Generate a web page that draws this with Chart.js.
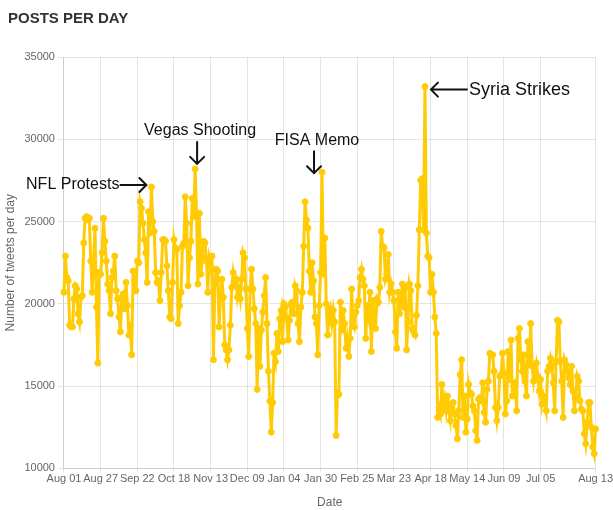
<!DOCTYPE html>
<html>
<head>
<meta charset="utf-8">
<script src="https://cdn.jsdelivr.net/npm/chart.js@4/dist/chart.umd.min.js"></script>
<style>
  html, body { margin: 0; padding: 0; background: #fff; }
  #wrap { position: relative; width: 613px; height: 510px; }
  #title { position: absolute; left: 8px; top: 9px; font: bold 15px "Liberation Sans", Arial, sans-serif; color: #333; letter-spacing: 0; }
  canvas { position: absolute; left: 0; top: 0; }
</style>
</head>
<body>
<div id="wrap">
  <canvas id="c" width="613" height="510"></canvas>
  <div id="title">POSTS PER DAY</div>
</div>
<script>
// ---- data ----
const startDate = '2017-08-01';
const dayCount = 378;
const tickDates = ['2017-08-01','2017-08-27','2017-09-22','2017-10-18','2017-11-13','2017-12-09',
  '2018-01-04','2018-01-30','2018-02-25','2018-03-23','2018-04-18','2018-05-14','2018-06-09',
  '2018-07-05','2018-08-13'];
const yTicks = [10000, 15000, 20000, 25000, 30000, 35000];
const postsPerDay = [
  20700,22900,21600,21400,18700,18600,18600,20300,21100,20900,
  19400,18900,20400,20500,23700,25200,25300,25100,25200,22600,
  20700,22700,24600,19800,16400,21900,21800,23100,25200,23800,
  22600,21200,20800,19400,21600,22000,22900,20800,20300,19200,
  18300,20400,20600,19700,21300,19900,18100,18700,16900,22000,
  21400,20800,22600,22500,26200,25800,24900,23900,23100,21300,
  25600,24300,27100,25000,24400,21900,21300,21400,20200,21900,
  23900,23900,23800,22300,20800,19200,19100,21300,23900,23400,
  23300,18800,19900,20700,23500,23700,26500,24900,21100,22800,
  23800,26400,25300,28200,25500,21200,25500,21800,22600,23800,
  23700,22800,20700,22700,22200,22900,16600,21200,22100,22000,
  18600,20400,21500,20400,17500,17200,16600,17200,18700,21000,
  21900,21300,21500,20400,20900,20300,21500,23100,22800,20900,
  18500,16800,20900,22100,20900,19700,18800,14800,18500,16200,
  18400,19500,20500,21600,18800,15900,14100,12200,14000,17000,
  16500,18200,17100,19100,19600,17700,20000,19800,19100,17800,
  19000,20000,20100,19400,21100,20800,18800,17700,19800,20700,
  23500,26200,25100,24600,22000,20700,22500,21400,19200,18800,
  16900,19900,21900,28000,21800,24000,20000,18100,19300,19700,
  18800,19600,18900,12000,14600,14500,20100,18400,19600,18800,
  17300,17900,16800,17900,20900,18900,18600,19500,19900,20200,
  21600,22100,21500,21100,17900,19900,19300,20700,17100,20200,
  19600,18500,20300,20100,21000,24400,23500,23400,21500,21800,
  23000,20700,21200,20700,20200,18300,17300,20700,19400,20100,
  21200,19800,21000,17200,18900,21200,20800,18500,18300,18100,
  19300,21100,24500,27500,27600,24500,33200,24300,22900,22800,
  20700,21800,20700,19200,18200,13100,13700,13300,15100,13900,
  14300,13500,14400,13500,12900,13900,14000,13300,12600,11800,
  13500,15700,16600,13100,14400,12200,13000,15100,14600,14500,
  13800,13500,12300,11700,14200,14300,14100,15200,13400,12800,
  14800,15300,17000,16900,16900,15900,13700,12900,13700,15600,
  15700,17000,15800,13300,14100,17100,15400,17800,14400,15000,
  15200,13500,17900,18500,16600,15900,16900,15300,14400,17700,
  16300,18800,16200,15300,16000,16400,15600,14700,15400,13900,
  14400,14000,13500,15900,16200,16700,16200,15200,13500,16500,
  19000,18900,16500,15300,13100,16600,16300,15900,15500,15100,
  16200,14700,13500,14400,15600,15300,14100,13600,13500,12100,
  11500,12800,14000,14000,12500,11300,10900,12400
];
const annotations = [
  { index: 62,  text: 'NFL Protests',   dir: 'right', size: 16 },
  { index: 93,  text: 'Vegas Shooting', dir: 'down', size: 16, arrowDx: 2,  textDx: 5,  tipDy: -5, len: 22 },
  { index: 183, text: 'FISA Memo',      dir: 'down', size: 16, arrowDx: -8, textDx: -5, tipDy: 1,  len: 22 },
  { index: 256, text: 'Syria Strikes',  dir: 'left', size: 18 }
];

// ---- categories (one per day) ----
const categories = [];
{
  const d0 = new Date(startDate + 'T00:00:00Z');
  for (let i = 0; i < dayCount; i++) {
    const d = new Date(d0.getTime() + i * 86400000);
    categories.push(d.toISOString().slice(0, 10));
  }
}
const monthNames = ['Jan','Feb','Mar','Apr','May','Jun','Jul','Aug','Sep','Oct','Nov','Dec'];
function fmtDate(iso) {
  const m = parseInt(iso.slice(5, 7), 10) - 1;
  return monthNames[m] + ' ' + iso.slice(8, 10);
}

const FONT = '"Liberation Sans", Arial, Helvetica, sans-serif';
const gold = '#FFCB05';

const annotationPlugin = {
  id: 'eventNotes',
  afterDatasetsDraw(chart) {
    const ctx = chart.ctx;
    const xs = chart.scales.x, ys = chart.scales.y;
    const data = chart.data.datasets[0].data;
    ctx.save();
    ctx.strokeStyle = '#111';
    ctx.fillStyle = '#111';
    ctx.lineWidth = 2;
    ctx.lineCap = 'round';
    ctx.lineJoin = 'miter';
    const head = 7;
    annotations.forEach(a => {
      const px = xs.getPixelForValue(a.index);
      const py = ys.getPixelForValue(data[a.index]);
      ctx.font = a.size + 'px ' + FONT;
      ctx.beginPath();
      if (a.dir === 'right') {
        const tipX = px - 5, y = py - 2, tailX = px - 31;
        ctx.moveTo(tailX, y); ctx.lineTo(tipX, y);
        ctx.moveTo(tipX - head, y - head); ctx.lineTo(tipX, y); ctx.lineTo(tipX - head, y + head);
        ctx.stroke();
        ctx.textAlign = 'right'; ctx.textBaseline = 'middle';
        ctx.fillText(a.text, tailX - 1, y);
      } else if (a.dir === 'left') {
        const tipX = px + 6, y = py + 3, tailX = px + 42;
        ctx.moveTo(tailX, y); ctx.lineTo(tipX, y);
        ctx.moveTo(tipX + head, y - head); ctx.lineTo(tipX, y); ctx.lineTo(tipX + head, y + head);
        ctx.stroke();
        ctx.textAlign = 'left'; ctx.textBaseline = 'middle';
        ctx.fillText(a.text, tailX + 2, y);
      } else {
        const x = px + a.arrowDx, tipY = py + a.tipDy, tailY = tipY - a.len;
        ctx.moveTo(x, tailY); ctx.lineTo(x, tipY);
        ctx.moveTo(x - head, tipY - head); ctx.lineTo(x, tipY); ctx.lineTo(x + head, tipY - head);
        ctx.stroke();
        ctx.textAlign = 'center'; ctx.textBaseline = 'bottom';
        ctx.fillText(a.text, px + a.textDx, tailY - 3);
      }
    });
    ctx.restore();
  }
};

Chart.defaults.font.family = FONT;
Chart.defaults.color = '#666';

new Chart(document.getElementById('c'), {
  type: 'line',
  data: {
    labels: categories,
    datasets: [{
      label: 'Posts per day',
      data: postsPerDay,
      borderColor: gold,
      backgroundColor: gold,
      pointBackgroundColor: gold,
      pointBorderColor: gold,
      borderWidth: 3,
      pointRadius: 3,
      pointBorderWidth: 1,
      tension: 0,
      fill: false
    }]
  },
  options: {
    responsive: false,
    animation: false,
    events: [],
    layout: { padding: { top: 57, right: 0, bottom: 0, left: 3 } },
    plugins: {
      legend: { display: false },
      tooltip: { enabled: false },
      title: { display: false }
    },
    scales: {
      x: {
        type: 'category',
        offset: false,
        grid: { color: 'rgba(0,0,0,0.1)', drawTicks: true, tickLength: 4 },
        border: { color: 'rgba(0,0,0,0.1)' },
        title: { display: true, text: 'Date', font: { size: 12 }, color: '#666', padding: { top: 10, bottom: 0 } },
        ticks: {
          autoSkip: false,
          maxRotation: 0,
          minRotation: 0,
          font: { size: 11 },
          color: '#666',
          padding: 0,
          callback: function (v, i) {
            const iso = categories[i];
            return tickDates.includes(iso) ? fmtDate(iso) : null;
          }
        }
      },
      y: {
        min: yTicks[0],
        max: yTicks[yTicks.length - 1],
        afterBuildTicks: (axis) => { axis.ticks = yTicks.map(v => ({ value: v })); },
        grid: { color: 'rgba(0,0,0,0.1)', tickLength: 6 },
        border: { color: 'rgba(0,0,0,0.1)' },
        title: { display: true, text: 'Number of tweets per day', font: { size: 12 }, color: '#666', padding: { top: 0, bottom: 4 } },
        ticks: {
          font: { size: 11 },
          color: '#666',
          padding: 3,
          callback: v => String(v)
        }
      }
    }
  },
  plugins: [annotationPlugin]
});
</script>
</body>
</html>
